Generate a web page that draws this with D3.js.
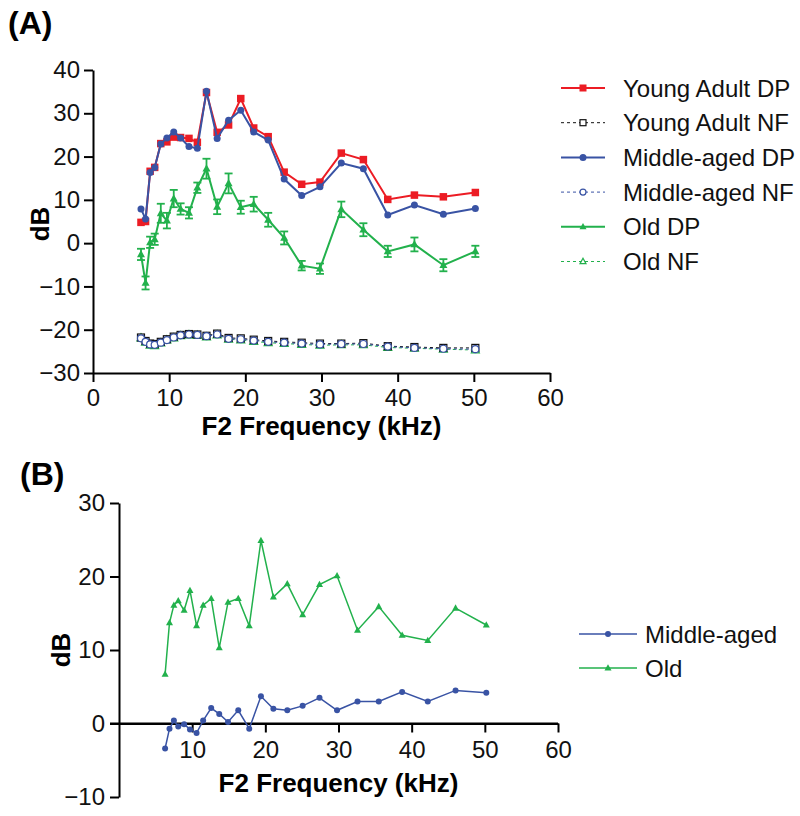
<!DOCTYPE html>
<html><head><meta charset="utf-8">
<script src="https://cdn.jsdelivr.net/npm/d3@7"></script>
<style>
body{margin:0;background:#fff;}
svg{display:block;font-family:"Liberation Sans",Arial,Helvetica,sans-serif;}
</style></head>
<body><svg id="c" width="800" height="816"></svg>
<script>
// ---- data ----
const freq = [6.3, 6.9, 7.5, 8.1, 8.9, 9.7, 10.6, 11.5, 12.6, 13.7, 14.9, 16.3, 17.8, 19.4, 21.1, 23.0, 25.1, 27.4, 29.8, 32.6, 35.5, 38.7, 42.2, 46.0, 50.2];
const youngDP = [4.8, 5.0, 16.6, 17.5, 23.0, 23.4, 24.5, 24.4, 24.2, 23.3, 34.8, 25.6, 27.3, 33.4, 26.6, 24.6, 16.4, 13.6, 14.1, 20.8, 19.3, 10.1, 11.1, 10.7, 11.7];
const youngNF = [-21.8, -22.6, -23.2, -23.3, -22.8, -22.2, -21.6, -21.2, -21.0, -21.1, -21.4, -20.9, -21.9, -22.0, -22.3, -22.6, -22.8, -23.0, -23.2, -23.2, -23.1, -23.8, -24.0, -24.2, -24.2];
const middleDP = [7.9, 5.6, 16.3, 17.5, 22.9, 24.3, 25.7, 24.3, 22.3, 21.9, 35.1, 24.2, 28.4, 30.7, 25.7, 23.8, 14.8, 11.0, 13.0, 18.5, 17.2, 6.5, 8.8, 6.7, 8.0];
const middleNF = [-22.0, -22.8, -23.4, -23.5, -23.0, -22.4, -21.8, -21.3, -21.1, -21.2, -21.5, -21.1, -22.1, -22.2, -22.5, -22.8, -23.0, -23.2, -23.4, -23.3, -23.3, -23.9, -24.2, -24.4, -24.5];
const oldDP = [-2.6, -9.2, 0.2, 0.9, 6.9, 5.2, 10.3, 7.9, 7.0, 12.8, 17.2, 8.4, 13.8, 8.3, 9.0, 5.4, 1.2, -5.2, -5.9, 7.8, 3.1, -1.9, -0.3, -5.1, -1.9];
const oldDPerr = [1.3, 1.5, 1.3, 1.3, 2.2, 1.8, 2.0, 1.3, 1.3, 1.2, 2.3, 1.7, 2.3, 1.5, 1.7, 1.6, 1.5, 1.1, 1.2, 1.8, 1.5, 1.3, 1.6, 1.4, 1.3];
const oldNF = [-21.9, -22.9, -23.6, -23.7, -23.1, -22.4, -21.9, -21.4, -21.2, -21.3, -21.7, -21.2, -22.2, -22.4, -22.7, -23.0, -23.2, -23.4, -23.6, -23.5, -23.5, -24.1, -24.3, -24.5, -24.7];
const middleShift = [-3.4, -0.7, 0.4, -0.4, -0.1, -0.8, -1.3, 0.4, 2.1, 1.3, 0.2, 1.8, -0.7, 3.7, 2.0, 1.8, 2.4, 3.5, 1.8, 3.0, 3.0, 4.3, 3.0, 4.5, 4.2];
const oldShift = [6.7, 13.7, 16.1, 16.7, 15.4, 18.1, 13.3, 16.1, 17.0, 10.3, 16.5, 17.0, 13.3, 24.9, 17.2, 19.0, 14.8, 18.9, 20.1, 12.7, 15.9, 12.0, 11.3, 15.7, 13.4];
const xTicksA = [0, 10, 20, 30, 40, 50, 60];
const yTicksA = [-30, -20, -10, 0, 10, 20, 30, 40];
const xTicksB = [10, 20, 30, 40, 50, 60];
const yTicksB = [-10, 0, 10, 20, 30];
const legendA = ["Young Adult DP", "Young Adult NF", "Middle-aged DP", "Middle-aged NF", "Old DP", "Old NF"];
const legendB = ["Middle-aged", "Old"];

const RED = "#ec1c24", BLUE = "#3953a4", GREEN = "#22b14c", BLACK = "#111";
const FONT = '"Liberation Sans",Arial,Helvetica,sans-serif';
const svg = d3.select("#c");

function styleAxis(g) {
  g.selectAll("path,line").attr("stroke", "#000").attr("stroke-width", 2);
  g.selectAll("text").attr("font-size", 24).attr("fill", "#111").attr("font-family", FONT);
}

function marker(g, type, x, y, color, filled, size) {
  const s = size;
  if (type === "square") {
    g.append("rect").attr("x", x - s / 2).attr("y", y - s / 2).attr("width", s).attr("height", s)
      .attr("fill", filled ? color : "#fff").attr("stroke", color).attr("stroke-width", filled ? 0 : 1.2);
  } else if (type === "circle") {
    g.append("circle").attr("cx", x).attr("cy", y).attr("r", s / 2)
      .attr("fill", filled ? color : "#fff").attr("stroke", color).attr("stroke-width", filled ? 0 : 1.2);
  } else {
    const h = s * 0.9;
    g.append("path").attr("d", `M${x},${y - h * 0.6}L${x + s / 2},${y + h * 0.4}L${x - s / 2},${y + h * 0.4}Z`)
      .attr("fill", filled ? color : "#fff").attr("stroke", color).attr("stroke-width", filled ? 0 : 1.2);
  }
}

// ---------- Panel A ----------
const xA = d3.scaleLinear().domain([0, 60]).range([93, 550]);
const yA = d3.scaleLinear().domain([-30, 40]).range([373, 70]);
const gA = svg.append("g");

gA.append("g").attr("transform", `translate(0,${yA(-30)})`)
  .call(d3.axisBottom(xA).tickValues(xTicksA).tickSize(9).tickSizeOuter(0).tickPadding(7))
  .call(styleAxis);
gA.append("g").attr("transform", `translate(${xA(0)},0)`)
  .call(d3.axisLeft(yA).tickValues(yTicksA).tickSize(9).tickSizeOuter(0).tickPadding(4))
  .call(styleAxis);

const seriesA = [
  {name: legendA[0], v: youngDP, color: RED, type: "square", filled: true, dash: null, w: 2, size: 7.5},
  {name: legendA[1], v: youngNF, color: BLACK, type: "square", filled: false, dash: "3,3", w: 1, size: 7},
  {name: legendA[2], v: middleDP, color: BLUE, type: "circle", filled: true, dash: null, w: 2, size: 7},
  {name: legendA[3], v: middleNF, color: BLUE, type: "circle", filled: false, dash: "3,3", w: 1, size: 7},
  {name: legendA[4], v: oldDP, color: GREEN, type: "tri", filled: true, dash: null, w: 2, size: 8, err: oldDPerr},
  {name: legendA[5], v: oldNF, color: GREEN, type: "tri", filled: false, dash: "3,3", w: 1, size: 8}
];
const drawOrder = [4, 5, 1, 3, 0, 2];
const lineA = d3.line().x(d => xA(d[0])).y(d => yA(d[1]));
drawOrder.forEach(i => {
  const s = seriesA[i];
  const pts = freq.map((f, k) => [f, s.v[k]]);
  const g = gA.append("g");
  if (s.err) {
    pts.forEach((p, k) => {
      const x = xA(p[0]), y1 = yA(p[1] + s.err[k]), y2 = yA(p[1] - s.err[k]);
      g.append("line").attr("x1", x).attr("x2", x).attr("y1", y1).attr("y2", y2).attr("stroke", s.color).attr("stroke-width", 1.8);
      g.append("line").attr("x1", x - 4).attr("x2", x + 4).attr("y1", y1).attr("y2", y1).attr("stroke", s.color).attr("stroke-width", 1.8);
      g.append("line").attr("x1", x - 4).attr("x2", x + 4).attr("y1", y2).attr("y2", y2).attr("stroke", s.color).attr("stroke-width", 1.8);
    });
  }
  g.append("path").attr("d", lineA(pts)).attr("fill", "none").attr("stroke", s.color)
    .attr("stroke-width", s.w).attr("stroke-dasharray", s.dash);
  pts.forEach(p => marker(g, s.type, xA(p[0]), yA(p[1]), s.color, s.filled, s.size));
});

// labels A
svg.append("text").attr("x", 8).attr("y", 34).attr("font-size", 32).attr("font-weight", "bold").text("(A)");
svg.append("text").attr("transform", `translate(49,224) rotate(-90)`)
  .attr("text-anchor", "middle").attr("font-size", 26).attr("font-weight", "bold").text("dB");
svg.append("text").attr("x", (xA(0) + xA(60)) / 2).attr("y", 435).attr("text-anchor", "middle")
  .attr("font-size", 26).attr("font-weight", "bold").text("F2 Frequency (kHz)");

// legend A
const legA = svg.append("g");
seriesA.forEach((s, i) => {
  const y = 88 + i * 34.7;
  legA.append("line").attr("x1", 561).attr("x2", 605).attr("y1", y).attr("y2", y)
    .attr("stroke", s.color).attr("stroke-width", s.dash ? 1 : 2).attr("stroke-dasharray", s.dash);
  marker(legA, s.type, 583, y, s.color, s.filled, s.filled ? 7 : 6);
  legA.append("text").attr("x", 623).attr("y", y + 8.5).attr("font-size", 24).attr("fill", "#111").text(s.name);
});

// ---------- Panel B ----------
const xB = d3.scaleLinear().domain([0, 60]).range([119, 558]);
const yB = d3.scaleLinear().domain([-10, 30]).range([797, 503]);
const gB = svg.append("g");
gB.append("g").attr("transform", `translate(0,${yB(0)})`)
  .call(d3.axisBottom(xB).tickValues(xTicksB).tickSize(9).tickSizeOuter(0).tickPadding(8))
  .call(styleAxis);
gB.append("g").attr("transform", `translate(${xB(0)},0)`)
  .call(d3.axisLeft(yB).tickValues(yTicksB).tickSize(9).tickSizeOuter(0).tickPadding(5))
  .call(styleAxis);
gB.append("line").attr("x1", xB(0) - 9).attr("x2", xB(60)).attr("y1", yB(0)).attr("y2", yB(0)).attr("stroke", "#000").attr("stroke-width", 2);

const seriesB = [
  {name: legendB[0], v: middleShift, color: BLUE, type: "circle", size: 6},
  {name: legendB[1], v: oldShift, color: GREEN, type: "tri", size: 7}
];
const lineB = d3.line().x(d => xB(d[0])).y(d => yB(d[1]));
seriesB.forEach(s => {
  const pts = freq.map((f, k) => [f, s.v[k]]);
  const g = gB.append("g");
  g.append("path").attr("d", lineB(pts)).attr("fill", "none").attr("stroke", s.color).attr("stroke-width", 1.5);
  pts.forEach(p => marker(g, s.type, xB(p[0]), yB(p[1]), s.color, true, s.size));
});

svg.append("text").attr("x", 20).attr("y", 485).attr("font-size", 32).attr("font-weight", "bold").text("(B)");
svg.append("text").attr("transform", `translate(70,${yB(10)}) rotate(-90)`)
  .attr("text-anchor", "middle").attr("font-size", 26).attr("font-weight", "bold").text("dB");
svg.append("text").attr("x", (xB(0) + xB(60)) / 2).attr("y", 792).attr("text-anchor", "middle")
  .attr("font-size", 26).attr("font-weight", "bold").text("F2 Frequency (kHz)");

const legB = svg.append("g");
seriesB.forEach((s, i) => {
  const y = 634 + i * 34;
  legB.append("line").attr("x1", 579).attr("x2", 637).attr("y1", y).attr("y2", y).attr("stroke", s.color).attr("stroke-width", 1.5);
  marker(legB, s.type, 608, y, s.color, true, s.size);
  legB.append("text").attr("x", 645).attr("y", y + 8.5).attr("font-size", 24).attr("fill", "#111").text(s.name);
});
</script></body></html>
